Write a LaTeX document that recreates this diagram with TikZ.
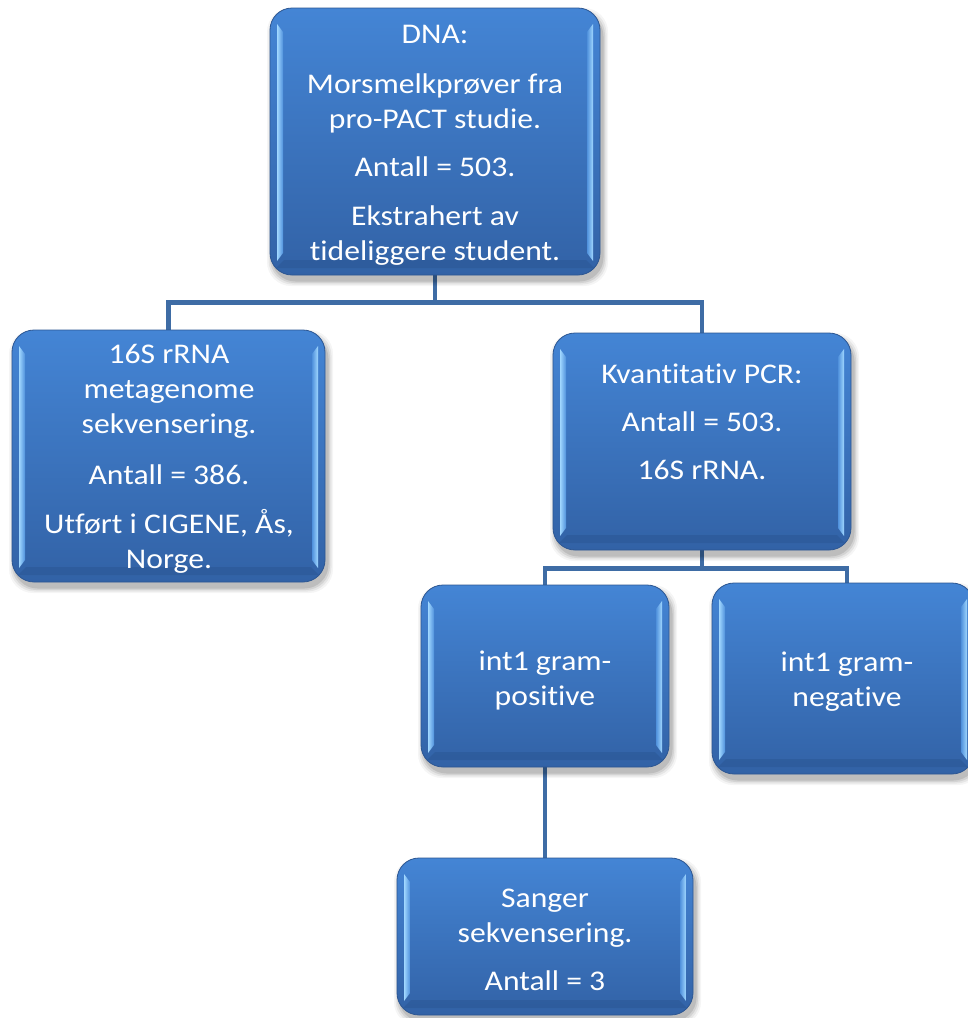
\documentclass[tikz,border=0pt]{standalone}
\usepackage{fontspec}
\setmainfont{Carlito}[Ligatures=NoCommon, FakeStretch=1.11]
\usetikzlibrary{fit}
\definecolor{boxtop}{RGB}{68,133,213}
\definecolor{boxbot}{RGB}{50,98,166}
\definecolor{boxedge}{RGB}{44,86,146}
\definecolor{conn}{RGB}{62,108,165}
\definecolor{hilite}{RGB}{160,215,255}
\definecolor{midblue}{RGB}{80,145,220}
\definecolor{darkband}{RGB}{44,88,150}
\pgfdeclarelayer{background}
\pgfsetlayers{background,main}
\tikzset{
  bevbox/.style={inner sep=0pt, rounded corners=22pt, top color=boxtop, bottom color=boxbot, draw=boxedge, line width=0.8pt},
  lbl/.style={inner sep=0pt, anchor=north, align=center, text=white, font=\fontsize{28.5}{35}\selectfont},
  link/.style={draw=conn, line width=4.6pt},
}
\newcommand\bevelbox[5]{%
  \foreach \s/\o in {10/0.04,7/0.06,4/0.08,1/0.10}{%
    \fill[black, opacity=\o, rounded corners=24pt] (#2+2-\s*0.5,#3+5-\s*0.5) rectangle (#4+3+\s*0.5,#5+6+\s*0.5);}
  \node[bevbox, fit={(#2,#3) (#4,#5)}] (#1) {};
  \fill[darkband, opacity=0.6] (#2+14,#5-15) -- (#4-14,#5-15) -- (#4-6,#5-7) -- (#2+6,#5-7) -- cycle;
  \shade[left color=hilite, right color=midblue] (#2+7,#3+16) -- (#2+13,#3+24) -- (#2+13,#5-22) -- (#2+7,#5-14) -- cycle;
  \shade[left color=midblue, right color=hilite] (#4-13,#3+24) -- (#4-7,#3+16) -- (#4-7,#5-14) -- (#4-13,#5-22) -- cycle;
}
\begin{document}
\begin{tikzpicture}[x=1pt,y=-1pt]
\useasboundingbox (0,0) rectangle (968,1018);
\begin{pgfonlayer}{background}
\fill[white] (0,0) rectangle (968,1018);
\end{pgfonlayer}

\bevelbox{top}{270}{8}{600}{275}
\bevelbox{left}{12}{330}{325}{582}
\bevelbox{pcr}{553}{333}{851}{550}
\bevelbox{pos}{421}{585}{669}{767}
\bevelbox{neg}{712}{583}{974}{774}
\bevelbox{sang}{397}{858}{693}{1015}

\node[lbl] (ttop) at (435,43-24) {\rule{0pt}{24pt}DNA:\\[15pt] Morsmelkprøver fra\\ pro-PACT studie.\\[13pt] Antall = 503.\\[14pt] Ekstrahert av\\ tideliggere student.};
\node[lbl] (tleft) at (169,363-24) {\rule{0pt}{24pt}16S rRNA\\ metagenome\\ sekvensering.\\[16pt] Antall = 386.\\[14pt] Utført i CIGENE, Ås,\\ Norge.};
\node[lbl] (tpcr) at (702,383-24) {\rule{0pt}{24pt}Kvantitativ PCR:\\[13pt] Antall = 503.\\[13pt] 16S rRNA.};
\node[lbl] (tpos) at (545,670-24) {\rule{0pt}{24pt}int1 gram-\\ positive};
\node[lbl] (tneg) at (847,671-24) {\rule{0pt}{24pt}int1 gram-\\ negative};
\node[lbl] (tsang) at (545,907-24) {\rule{0pt}{24pt}Sanger\\ sekvensering.\\[13pt] Antall = 3};

\begin{pgfonlayer}{background}
\draw[link] (top.south) -- ++(0,27) coordinate (j1);
\draw[link] (j1) -| (left.north);
\draw[link] (j1) -| (pcr.north);
\draw[link] (pcr.south) -- ++(0,18) coordinate (j2);
\draw[link] (j2) -| (pos.north);
\draw[link] (j2) -| ([xshift=4pt]neg.north);
\draw[link] (pos.south) -- (sang.north);
\end{pgfonlayer}
\end{tikzpicture}
\end{document}
